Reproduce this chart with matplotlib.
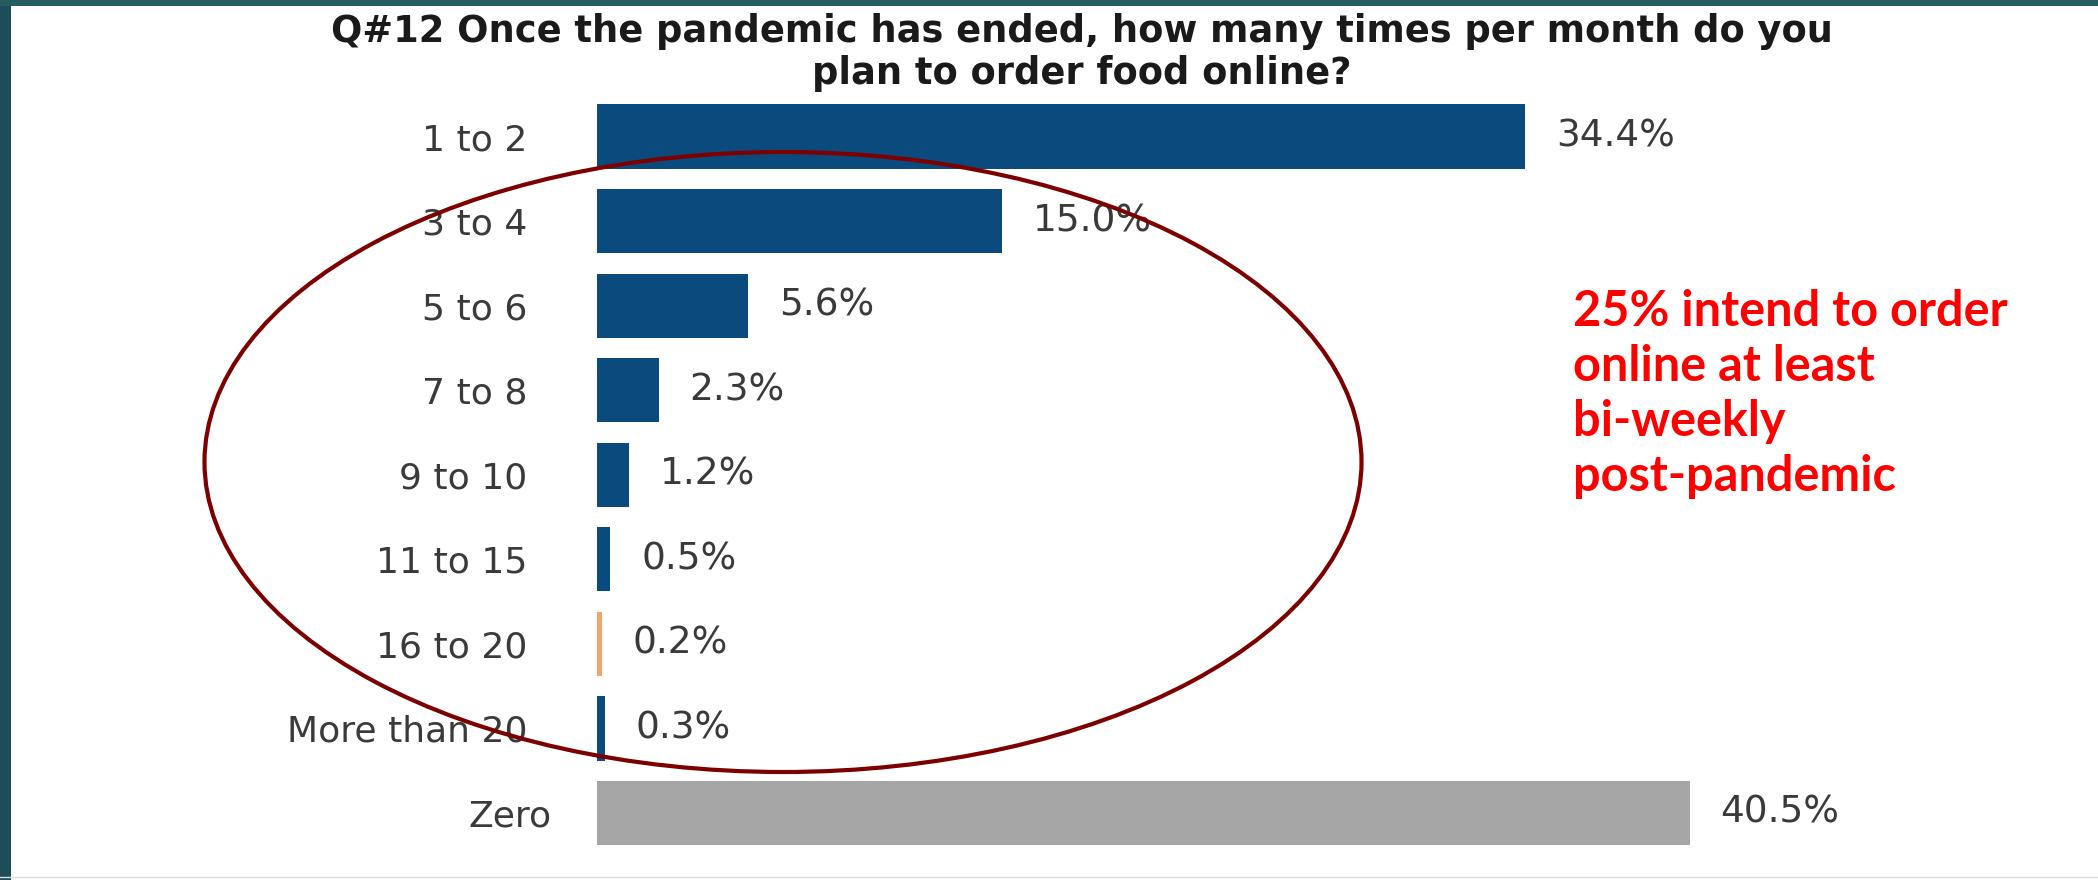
import matplotlib
matplotlib.use("Agg")
import matplotlib.pyplot as plt
import matplotlib.transforms as mtransforms
from matplotlib.patches import Ellipse, Rectangle

# Survey answers: planned online food orders per month after the pandemic
categories = ["1 to 2", "3 to 4", "5 to 6", "7 to 8", "9 to 10",
              "11 to 15", "16 to 20", "More than 20", "Zero"]
shares = [34.4, 15.0, 5.6, 2.3, 1.2, 0.5, 0.2, 0.3, 40.5]
bar_colors = ["#0b4a7d", "#0b4a7d", "#0b4a7d", "#0b4a7d", "#0b4a7d",
              "#0b4a7d", "#f2a46a", "#0b4a7d", "#a6a6a6"]
title_lines = ["Q#12 Once the pandemic has ended, how many times per month do you",
               "plan to order food online?"]
callout_lines = ["25% intend to order", "online at least", "bi-weekly", "post-pandemic"]

W, H = 2098, 880
fig = plt.figure(figsize=(W / 100, H / 100), dpi=100, facecolor="white")

# Bar chart
ax = fig.add_axes([597 / W, 1 - 855.25 / H, 1303 / W, 761 / H])
ypos = list(range(len(categories)))
ax.barh(ypos, shares, height=0.76, color=bar_colors)
ax.set_xlim(0, 1303 / 26.99)
ax.set_ylim(len(categories) - 0.5, -0.5)
ax.set_yticks(ypos, categories)
ax.set_xticks([])
ax.tick_params(axis="y", length=0, pad=50, labelsize=26, labelcolor="#3a3a3a")
for s in ax.spines.values():
    s.set_visible(False)

# the "Zero" row label sits a little further right
zero_label = ax.get_yticklabels()[-1]
zero_label.set_transform(zero_label.get_transform()
                         + mtransforms.ScaledTranslation(0.24, 0, fig.dpi_scale_trans))

for i, v in enumerate(shares):
    ax.annotate(f"{v:.1f}%", (v, i), xytext=(22, 0), textcoords="offset points",
                va="center", ha="left", fontsize=27, color="#3a3a3a")

# Slide overlay: frame, title, highlight ellipse and callout
ov = fig.add_axes([0, 0, 1, 1], zorder=5)
ov.set_xlim(0, W)
ov.set_ylim(H, 0)
ov.axis("off")
ov.patch.set_alpha(0)

ov.add_patch(Rectangle((0, 0), 11, H, color="#1c4d58", lw=0))
ov.add_patch(Rectangle((0, 0), W, 6, color="#245c62", lw=0))
ov.plot([0, W], [877.5, 877.5], color="#dddddd", lw=1)

ov.text(1082, 32, title_lines[0], ha="center", va="center", fontsize=26.5,
        fontweight="bold", color="#1a1a1a", family="DejaVu Sans")
ov.text(1082, 74, title_lines[1], ha="center", va="center", fontsize=26.5,
        fontweight="bold", color="#1a1a1a", family="DejaVu Sans")

ov.add_patch(Ellipse((783, 462), 1157, 620, fill=False, edgecolor="#7d0000", lw=3))

for k, line in enumerate(callout_lines):
    ov.text(1573, 326 + 55 * k, line, ha="left", va="baseline", fontsize=35,
            fontweight="bold", color="#ff0000", family="Lato")

fig.savefig("out.png", dpi=100, facecolor="white")
